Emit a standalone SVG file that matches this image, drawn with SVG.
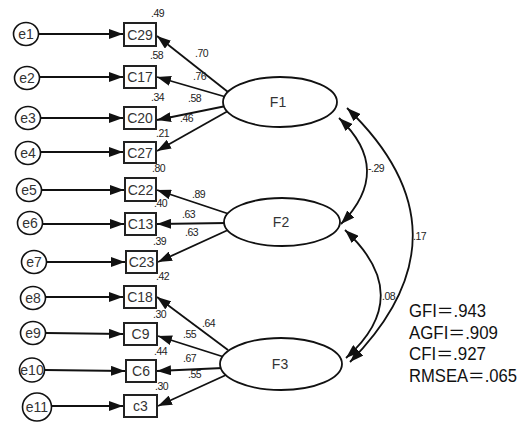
<svg xmlns="http://www.w3.org/2000/svg" width="523" height="424" viewBox="0 0 523 424">
<style>
.e{fill:#fff;stroke:#111;stroke-width:1.6}
.b{fill:#fff;stroke:#222;stroke-width:2}
.f{fill:#fff;stroke:#111;stroke-width:1.8}
.c{fill:none;stroke:#111;stroke-width:1.8}
.t{font-family:"Liberation Sans",Arial,sans-serif;font-size:14px;fill:#333;text-anchor:middle}
.s{font-family:"Liberation Sans",Arial,sans-serif;font-size:10.5px;fill:#222;letter-spacing:-0.5px}
.g{font-family:"Liberation Sans","Noto Sans CJK JP",sans-serif;font-size:17.5px;fill:#111}
</style>
<defs>
<marker id="ah" markerUnits="userSpaceOnUse" markerWidth="15" markerHeight="10" refX="14" refY="5" orient="auto-start-reverse" viewBox="0 0 15 10">
<path d="M0,0 L14,5 L0,10 z" fill="#111"/>
</marker>
</defs>
<g id="connectors">
<path class="c" marker-end="url(#ah)" d="M39,34 L123,34"/>
<path class="c" marker-end="url(#ah)" d="M40,77 L123,77"/>
<path class="c" marker-end="url(#ah)" d="M41,118 L123,118"/>
<path class="c" marker-end="url(#ah)" d="M41,152 L123,152"/>
<path class="c" marker-end="url(#ah)" d="M42,190 L124,190"/>
<path class="c" marker-end="url(#ah)" d="M43,224 L124,224"/>
<path class="c" marker-end="url(#ah)" d="M47,262 L125,262"/>
<path class="c" marker-end="url(#ah)" d="M46,297 L123,297"/>
<path class="c" marker-end="url(#ah)" d="M46,333 L123,334"/>
<path class="c" marker-end="url(#ah)" d="M45,370 L125,371"/>
<path class="c" marker-end="url(#ah)" d="M51,406 L123,406"/>
<path class="c" marker-end="url(#ah)" d="M228,92 L157,36"/>
<path class="c" marker-end="url(#ah)" d="M226,97 L157,77"/>
<path class="c" marker-end="url(#ah)" d="M226,106 L157,120"/>
<path class="c" marker-end="url(#ah)" d="M228,111 L157,151"/>
<path class="c" marker-end="url(#ah)" d="M229,214 L157,190"/>
<path class="c" marker-end="url(#ah)" d="M227,223 L157,224"/>
<path class="c" marker-end="url(#ah)" d="M228,230 L158,262"/>
<path class="c" marker-end="url(#ah)" d="M228,350 L157,297"/>
<path class="c" marker-end="url(#ah)" d="M224,357 L158,336"/>
<path class="c" marker-end="url(#ah)" d="M223,368 L157,371"/>
<path class="c" marker-end="url(#ah)" d="M226,375 L158,406"/>
<path class="c" marker-start="url(#ah)" marker-end="url(#ah)" d="M339,118 Q394,170 341,224"/>
<path class="c" marker-start="url(#ah)" marker-end="url(#ah)" d="M345,230 Q416,296 346,358"/>
<path class="c" marker-start="url(#ah)" marker-end="url(#ah)" d="M347,108 Q477,233 350,362"/>
</g>
<g id="e1"><ellipse class="e" cx="26" cy="34" rx="12.5" ry="11.5"/><text class="t" x="26" y="39">e1</text></g>
<g id="e2"><ellipse class="e" cx="27" cy="78" rx="12.5" ry="11.5"/><text class="t" x="27" y="83">e2</text></g>
<g id="e3"><ellipse class="e" cx="28" cy="118" rx="12.5" ry="11.5"/><text class="t" x="28" y="123">e3</text></g>
<g id="e4"><ellipse class="e" cx="28" cy="153" rx="12.5" ry="11.5"/><text class="t" x="28" y="158">e4</text></g>
<g id="e5"><ellipse class="e" cx="29" cy="190" rx="12.5" ry="11.5"/><text class="t" x="29" y="195">e5</text></g>
<g id="e6"><ellipse class="e" cx="30" cy="223" rx="12.5" ry="11.5"/><text class="t" x="30" y="228">e6</text></g>
<g id="e7"><ellipse class="e" cx="34" cy="262" rx="12.5" ry="11.5"/><text class="t" x="34" y="267">e7</text></g>
<g id="e8"><ellipse class="e" cx="33" cy="298" rx="12.5" ry="11.5"/><text class="t" x="33" y="303">e8</text></g>
<g id="e9"><ellipse class="e" cx="33" cy="333" rx="12.5" ry="11.5"/><text class="t" x="33" y="338">e9</text></g>
<g id="e10"><ellipse class="e" cx="32" cy="370" rx="12.5" ry="12"/><text class="t" x="32" y="375">e10</text></g>
<g id="e11"><ellipse class="e" cx="37" cy="407" rx="14.5" ry="14"/><text class="t" x="37" y="412">e11</text></g>
<g id="C29"><rect class="b" x="124" y="23" width="32" height="23"/><text class="t" x="140" y="39.5">C29</text><text class="s" x="151" y="17">.49</text></g>
<g id="C17"><rect class="b" x="124" y="66" width="32" height="22"/><text class="t" x="140" y="82">C17</text><text class="s" x="150" y="59">.58</text></g>
<g id="C20"><rect class="b" x="124" y="107" width="32" height="22"/><text class="t" x="140" y="123">C20</text><text class="s" x="151" y="101">.34</text></g>
<g id="C27"><rect class="b" x="124" y="142" width="32" height="21"/><text class="t" x="140" y="157.5">C27</text><text class="s" x="156" y="137">.21</text></g>
<g id="C22"><rect class="b" x="125" y="178" width="31" height="23"/><text class="t" x="140.5" y="195">C22</text><text class="s" x="152" y="172">.80</text></g>
<g id="C13"><rect class="b" x="125" y="213" width="31" height="22"/><text class="t" x="140.5" y="229">C13</text><text class="s" x="154" y="207">.40</text></g>
<g id="C23"><rect class="b" x="126" y="251" width="31" height="22"/><text class="t" x="141.5" y="267">C23</text><text class="s" x="153" y="245">.39</text></g>
<g id="C18"><rect class="b" x="124" y="286" width="32" height="22"/><text class="t" x="140" y="302">C18</text><text class="s" x="156" y="280">.42</text></g>
<g id="C9"><rect class="b" x="124" y="323" width="33" height="22"/><text class="t" x="140.5" y="339">C9</text><text class="s" x="153" y="318">.30</text></g>
<g id="C6"><rect class="b" x="126" y="360" width="30" height="22"/><text class="t" x="141" y="376">C6</text><text class="s" x="154" y="355">.44</text></g>
<g id="c3"><rect class="b" x="124" y="395" width="33" height="22"/><text class="t" x="140.5" y="411">c3</text><text class="s" x="155" y="390">.30</text></g>
<g id="F1"><ellipse class="f" cx="280" cy="102" rx="57" ry="25"/><text class="t" x="278" y="107">F1</text></g>
<g id="F2"><ellipse class="f" cx="282" cy="222" rx="58" ry="24"/><text class="t" x="281" y="227">F2</text></g>
<g id="F3"><ellipse class="f" cx="281" cy="364" rx="61" ry="26"/><text class="t" x="280" y="369">F3</text></g>
<g id="labels">
<text class="s" x="195" y="57">.70</text>
<text class="s" x="193" y="80">.76</text>
<text class="s" x="188" y="102">.58</text>
<text class="s" x="180" y="122">.46</text>
<text class="s" x="192" y="198">.89</text>
<text class="s" x="182" y="218">.63</text>
<text class="s" x="185" y="236">.63</text>
<text class="s" x="202" y="327">.64</text>
<text class="s" x="183" y="338">.55</text>
<text class="s" x="183" y="362">.67</text>
<text class="s" x="188" y="378">.55</text>
<text class="s" x="368" y="172">-.29</text>
<text class="s" x="413" y="240">.17</text>
<text class="s" x="382" y="300">.08</text>
</g>
<g id="fit">
<text class="g" x="409" y="317" textLength="77" lengthAdjust="spacingAndGlyphs">GFI＝.943</text>
<text class="g" x="409" y="338.5" textLength="89" lengthAdjust="spacingAndGlyphs">AGFI＝.909</text>
<text class="g" x="409" y="360" textLength="77" lengthAdjust="spacingAndGlyphs">CFI＝.927</text>
<text class="g" x="409" y="382" textLength="108" lengthAdjust="spacingAndGlyphs">RMSEA＝.065</text>
</g>
</svg>
